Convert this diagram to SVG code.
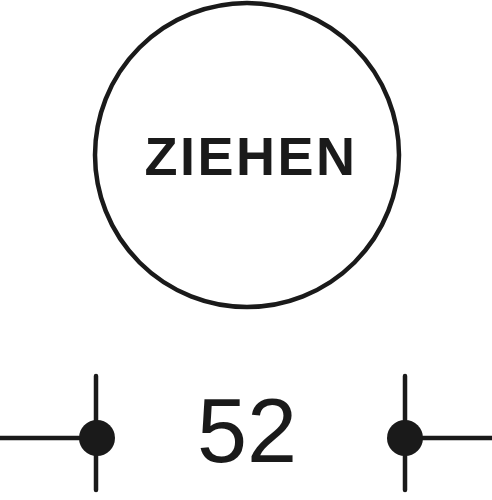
<svg xmlns="http://www.w3.org/2000/svg" width="492" height="500" viewBox="0 0 492 500">
<style>
.ln{stroke:#1a1a1a;stroke-width:4.5;fill:none;stroke-linecap:round}
.dot{fill:#1a1a1a}
.t{font-family:"Liberation Sans",Arial,sans-serif;fill:#1a1a1a;text-anchor:middle}
</style>
<rect width="492" height="500" fill="#fff"/>
<g id="sign">
<circle cx="247" cy="155" r="152" class="ln"/>
<text x="251" y="175" class="t" font-size="54" font-weight="bold" letter-spacing="2.5">ZIEHEN</text>
</g>
<g id="connectors">
<line x1="96" y1="376" x2="96" y2="490" class="ln"/>
<line x1="0" y1="438" x2="96" y2="438" class="ln" stroke-linecap="butt"/>
<circle cx="97" cy="438" r="18" class="dot"/>
<line x1="405" y1="376" x2="405" y2="490" class="ln"/>
<line x1="405" y1="438" x2="492" y2="438" class="ln" stroke-linecap="butt"/>
<circle cx="405" cy="438" r="18" class="dot"/>
</g>
<g id="dimension">
<text x="247" y="462" class="t" font-size="90">52</text>
</g>
</svg>
